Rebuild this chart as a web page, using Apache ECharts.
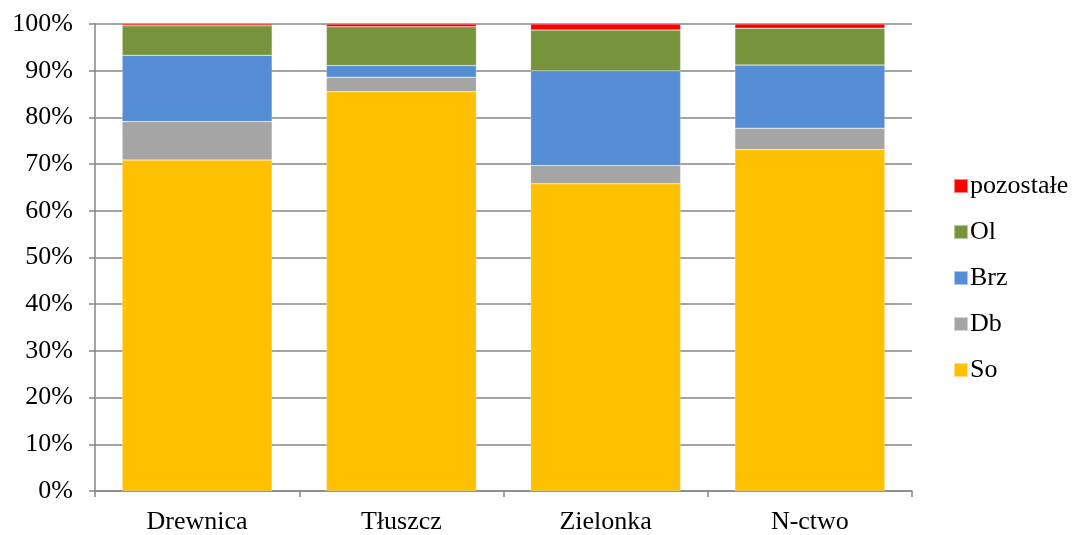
<!DOCTYPE html>
<html><head><meta charset="utf-8">
<script src="https://cdn.jsdelivr.net/npm/echarts@6/dist/echarts.min.js"></script>
<style>html,body{margin:0;padding:0;background:#fff}#c{width:1073px;height:535px}</style>
</head><body><div id="c"></div>
<script>
const categories = ['Drewnica', 'Tłuszcz', 'Zielonka', 'N-ctwo'];
const So = [70.9, 85.5, 65.8, 73.1];
const Db = [8.2, 3.1, 3.9, 4.6];
const Brz = [14.2, 2.5, 20.3, 13.5];
const Ol = [6.3, 8.3, 8.7, 7.9];
const pozostale = [0.4, 0.6, 1.3, 0.9];
const yTicks = [0, 10, 20, 30, 40, 50, 60, 70, 80, 90, 100];

const font = 'Liberation Serif, Times New Roman, serif';
const chart = echarts.init(document.getElementById('c'));
function s(name, data, color) {
  return { name, type: 'bar', stack: 'a', data, barWidth: 150,
    itemStyle: { color, borderColor: 'rgba(255,255,255,0.5)', borderWidth: 0.5 } };
}
chart.setOption({
  animation: false,
  grid: { left: 95, right: 161, top: 24, bottom: 43 },
  legend: {
    orient: 'vertical', left: 948, top: 168,
    data: ['pozostałe', 'Ol', 'Brz', 'Db', 'So'],
    itemWidth: 14, itemHeight: 14, itemGap: 20, icon: 'rect',
    textStyle: { fontFamily: font, fontSize: 26, lineHeight: 20, color: '#000', padding: [0,0,0,-3] }
  },
  xAxis: {
    type: 'category', data: categories,
    axisLine: { lineStyle: { color: '#868686', width: 1.5 } },
    axisTick: { show: true, alignWithLabel: false, length: 6, lineStyle: { color: '#868686', width: 1.5 } },
    axisLabel: { fontFamily: font, fontSize: 26, color: '#000', margin: 18 }
  },
  yAxis: {
    type: 'value', min: yTicks[0], max: yTicks[yTicks.length - 1], interval: 10,
    axisLine: { show: true, lineStyle: { color: '#868686', width: 1.5 } },
    axisTick: { show: true, length: 6, lineStyle: { color: '#868686', width: 1.5 } },
    splitLine: { lineStyle: { color: '#868686', width: 1.5 } },
    axisLabel: { fontFamily: font, fontSize: 26, color: '#000', margin: 22, formatter: v => v + '%' }
  },
  series: [
    s('So', So, '#FFC000'),
    s('Db', Db, '#A5A5A5'),
    s('Brz', Brz, '#558ED5'),
    s('Ol', Ol, '#77933C'),
    s('pozostałe', pozostale, '#FF0000')
  ]
});
</script></body></html>
